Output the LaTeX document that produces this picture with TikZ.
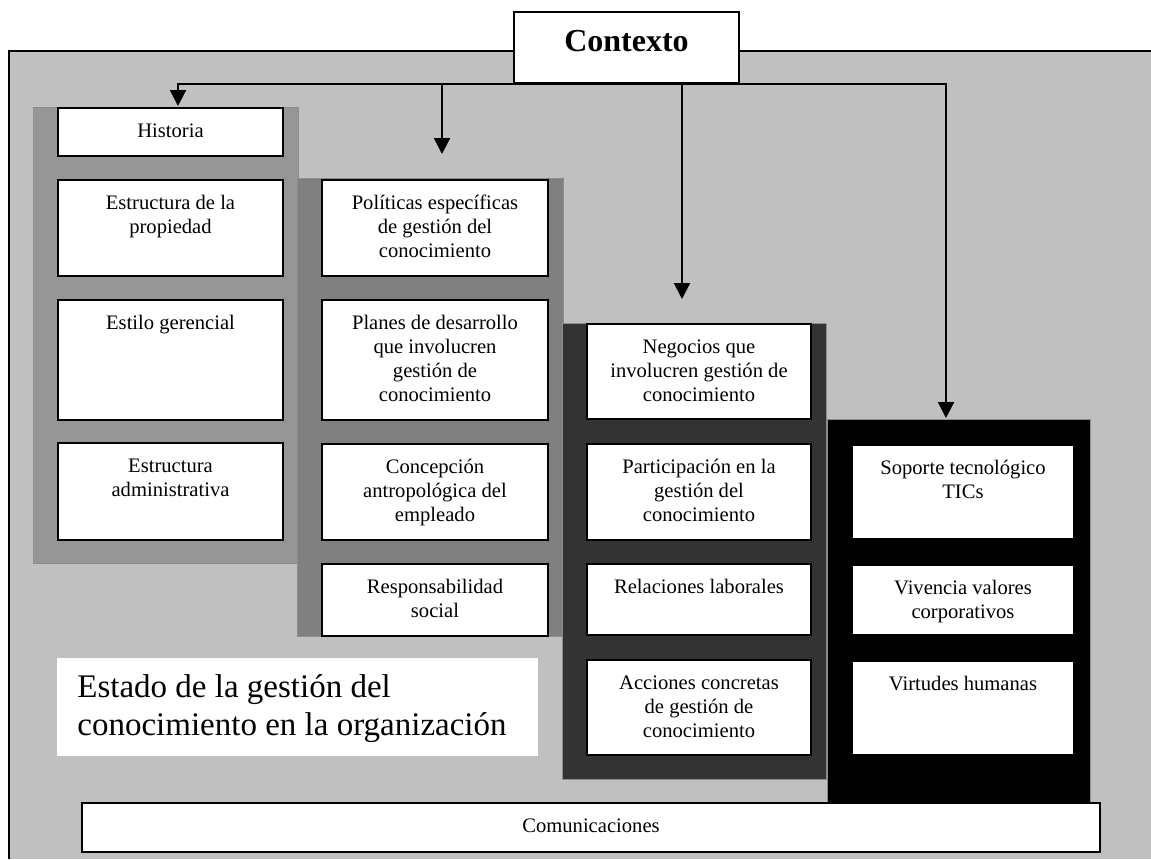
\documentclass[tikz,border=0pt]{standalone}
\usepackage{fontspec}
\setmainfont{Liberation Serif}
\usetikzlibrary{arrows.meta,positioning}

\definecolor{fondo}{HTML}{C0C0C0}
\definecolor{capaA}{HTML}{969696}
\definecolor{capaB}{HTML}{808080}
\definecolor{capaC}{HTML}{333333}
\definecolor{capaD}{HTML}{000000}

\tikzset{
  celda/.style={draw=black, line width=1pt, fill=white, inner sep=0pt, anchor=north west,
    font=\fontsize{10.3}{12}\selectfont},
  capa/.style={draw=black!45, line width=0.5pt},
  flecha/.style={line width=1pt, -{Triangle[width=8pt,length=8pt]}},
}

% caja con texto arriba: nombre, x, y, ancho, alto, texto
\newcommand{\celda}[6]{%
  \node[celda] (#1) at (#2,#3)
    {\parbox[t][\dimexpr#5pt/2\relax][t]{\dimexpr#4pt/2\relax}{\centering\rule{0pt}{14.75pt}#6}};}

\begin{document}
\begin{tikzpicture}[x=0.5pt,y=-0.5pt]
    \useasboundingbox (0,0) rectangle (1151,859);

    % marco general
    \fill[fondo] (9,51) rectangle (1151,859);
    \draw[line width=1pt] (9,859) -- (9,51) -- (1151,51);

    % capas de fondo
    \filldraw[capa, fill=capaA] (33,107) rectangle (298,563);
    \filldraw[capa, fill=capaB] (297,178) rectangle (563,636);
    \filldraw[capa, fill=capaC] (562,323) rectangle (826,779);
    \filldraw[capa, fill=capaD] (827,419) rectangle (1090,810);

    % Contexto
    \node[celda, font=\fontsize{16}{19}\selectfont\bfseries] (ctx) at (513,11)
        {\parbox[t][35.5pt][t]{112.5pt}{\centering\rule{0pt}{19.5pt}Contexto}};

    % columna 1
    \celda{hist}{57}{107}{225}{48}{Historia}
    \celda{prop}{57}{179}{225}{96}{Estructura de la\\propiedad}
    \celda{estilo}{57}{299}{225}{120}{Estilo gerencial}
    \celda{admin}{57}{442}{225}{97}{Estructura\\administrativa}

    % columna 2
    \celda{polit}{321}{179}{226}{96}{Políticas específicas\\de gestión del\\conocimiento}
    \celda{planes}{321}{299}{226}{120}{Planes de desarrollo\\que involucren\\gestión de\\conocimiento}
    \celda{antrop}{321}{443}{226}{96}{Concepción\\antropológica del\\empleado}
    \celda{resp}{321}{563}{226}{72}{Responsabilidad\\social}

    % columna 3
    \celda{negoc}{586}{323}{224}{95}{Negocios que\\involucren gestión de\\conocimiento}
    \celda{partic}{586}{443}{224}{96}{Participación en la\\gestión del\\conocimiento}
    \celda{relac}{586}{563}{224}{71}{Relaciones laborales}
    \celda{acc}{586}{659}{224}{95}{Acciones concretas\\de gestión de\\conocimiento}

    % columna 4
    \celda{sop}{851}{444}{222}{94}{Soporte tecnológico\\TICs}
    \celda{viv}{851}{564}{222}{70}{Vivencia valores\\corporativos}
    \celda{virt}{851}{660}{222}{94}{Virtudes humanas}

    % franja inferior
    \celda{comun}{81}{802}{1018}{49}{Comunicaciones}

    % rotulo
    \node[inner xsep=10pt, inner ysep=0pt, fill=white, anchor=north west,
          font=\fontsize{16.5}{19}\selectfont] (estado) at (57,658)
        {\parbox[t][49pt][t]{220.5pt}{\raggedright\rule{0pt}{19.5pt}Estado de la gestión del\\conocimiento en la organización}};

    % flechas desde Contexto
    \coordinate (t1) at (178,106);
    \coordinate (t2) at (442,154);
    \coordinate (t3) at (682,299);
    \coordinate (t4) at (946,418);
    \foreach \t in {t1,t2,t3,t4}
        \draw[flecha] (ctx.south) -| (\t);
\end{tikzpicture}
\end{document}
